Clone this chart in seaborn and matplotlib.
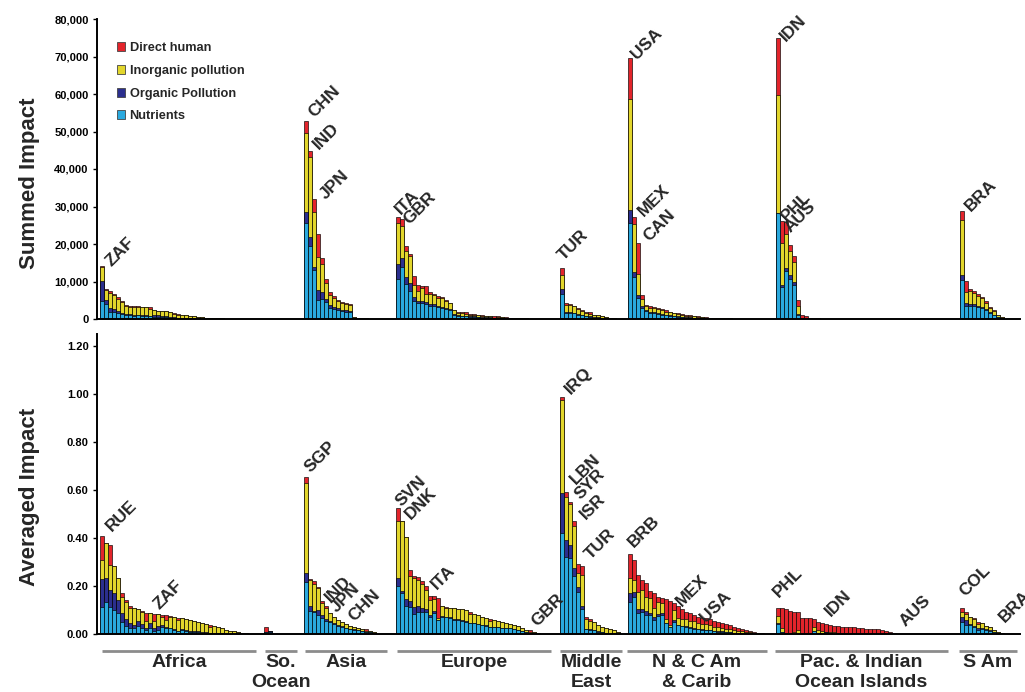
import matplotlib
matplotlib.use("Agg")
import matplotlib.pyplot as plt
from matplotlib.patches import Patch
from matplotlib.ticker import FuncFormatter
import numpy as np
import pandas as pd
import seaborn as sns

# ---- data -------------------------------------------------------------
regions = ["Africa", "So.\nOcean", "Asia", "Europe", "Middle\nEast",
           "N & C Am\n& Carib", "Pac. & Indian\nOcean Islands", "S Am"]
components = ["Nutrients", "Organic Pollution", "Inorganic pollution", "Direct human"]

# summed impact, thousands, one list per region (countries sorted high -> low)
top_nutrients = [
    [4.9, 4.0, 2.0, 1.8, 1.5, 1.3, 1.0, 1.0, 0.9, 1.0, 0.8, 0.9, 0.7, 0.6, 0.5, 0.6, 0.5, 0.4, 0.3,
     0.3, 0.2, 0.2, 0.2, 0.1, 0.1, 0.1, 0.1, 0.1, 0.1, 0, 0, 0, 0, 0, 0, 0, 0],
    [0, 0, 0],
    [25.5, 19.6, 13.0, 5.0, 5.3, 4.5, 2.9, 2.7, 2.4, 2.1, 2.0, 1.9, 0.2, 0.15, 0.1, 0.1, 0.05, 0],
    [10.7, 14.0, 9.3, 7.6, 4.9, 4.3, 4.3, 4.1, 3.6, 3.4, 3.2, 2.9, 2.6, 2.3, 1.2, 0.9, 0.8, 0.8,
     0.6, 0.6, 0.5, 0.4, 0.4, 0.4, 0.2, 0.3, 0.3, 0.2, 0.2, 0.1, 0.1, 0.1, 0.05, 0.05, 0, 0],
    [6.6, 1.5, 1.6, 1.5, 1.2, 1.0, 0.7, 0.6, 0.4, 0.4, 0.3, 0.2, 0.1, 0.1, 0],
    [25.7, 11.2, 5.5, 3.0, 2.1, 1.7, 1.5, 1.3, 1.2, 1.0, 0.9, 0.7, 0.6, 0.5, 0.4, 0.4, 0.3, 0.2,
     0.2, 0.2, 0.1, 0.1, 0.1, 0.1, 0.05, 0.05, 0, 0, 0, 0, 0, 0, 0, 0],
    [28.2, 8.5, 12.9, 10.7, 9.2, 1.2, 0.2, 0.1, 0.1, 0, 0, 0, 0, 0, 0, 0, 0, 0, 0, 0,
     0, 0, 0, 0, 0, 0, 0, 0, 0, 0],
    [10.4, 3.5, 3.5, 3.4, 3.2, 3.0, 2.5, 1.6, 1.1, 0.5, 0.2],
]
top_organic = [
    [5.3, 1.2, 1.0, 0.8, 0.6, 0.4, 0.3, 0.3, 0.2, 0.2, 0.3, 0.2, 0.2, 0.4, 0.5, 0.3, 0.3, 0.2, 0.2,
     0.1, 0.1, 0.1, 0.1, 0.1, 0.1, 0, 0, 0, 0, 0, 0, 0, 0, 0, 0, 0, 0],
    [0, 0, 0],
    [3.1, 2.2, 1.0, 2.7, 2.0, 0.8, 0.8, 0.6, 0.5, 0.4, 0.4, 0.3, 0.05, 0.05, 0, 0, 0, 0],
    [4.0, 2.2, 2.0, 2.0, 0.9, 0.5, 0.6, 0.5, 0.5, 0.5, 0.4, 0.3, 0.3, 0.3, 0.2, 0.1, 0.1, 0.1,
     0.1, 0.1, 0.1, 0.1, 0.1, 0.1, 0, 0, 0, 0, 0, 0, 0, 0, 0, 0, 0, 0],
    [1.3, 0.3, 0.3, 0.2, 0.2, 0.1, 0.1, 0.1, 0.1, 0.1, 0, 0, 0, 0, 0],
    [3.4, 1.3, 0.9, 0.6, 0.4, 0.3, 0.3, 0.3, 0.2, 0.2, 0.2, 0.1, 0.1, 0.1, 0.1, 0.1, 0.1, 0,
     0, 0, 0, 0, 0, 0, 0, 0, 0, 0, 0, 0, 0, 0, 0, 0],
    [0, 0.6, 0.6, 1.0, 0.7, 0.2, 0, 0, 0, 0, 0, 0, 0, 0, 0, 0, 0, 0, 0, 0,
     0, 0, 0, 0, 0, 0, 0, 0, 0, 0],
    [1.3, 0.9, 0.6, 0.5, 0.4, 0.3, 0.3, 0.2, 0.1, 0.1, 0],
]
top_inorganic = [
    [3.8, 2.5, 4.0, 3.8, 3.2, 2.8, 2.2, 1.9, 2.0, 2.0, 2.0, 2.0, 1.8, 1.3, 1.1, 1.2, 1.3, 1.2, 0.9,
     0.8, 0.8, 0.7, 0.6, 0.5, 0.4, 0.4, 0.3, 0.2, 0.2, 0.2, 0.2, 0.1, 0.1, 0.1, 0.05, 0.05, 0.03],
    [0.02, 0.01, 0],
    [21.0, 21.3, 14.6, 8.9, 7.5, 4.4, 2.8, 2.4, 2.0, 1.8, 1.7, 1.6, 0.2, 0.2, 0.2, 0.1, 0.05, 0.05],
    [10.8, 8.6, 6.9, 7.1, 3.4, 2.7, 3.5, 2.0, 2.5, 2.4, 2.1, 2.3, 2.0, 1.6, 0.9, 0.7, 0.8, 0.5,
     0.5, 0.5, 0.5, 0.4, 0.3, 0.3, 0.2, 0.3, 0.2, 0.2, 0.2, 0.2, 0.1, 0.1, 0.1, 0.05, 0.05, 0.03],
    [3.9, 2.0, 1.8, 1.7, 1.3, 1.1, 0.9, 0.7, 0.5, 0.5, 0.4, 0.3, 0.2, 0.1, 0.1],
    [29.5, 12.9, 5.6, 1.8, 1.0, 1.0, 1.1, 1.0, 1.0, 0.8, 0.7, 0.7, 0.7, 0.5, 0.4, 0.4, 0.4, 0.3,
     0.3, 0.2, 0.2, 0.1, 0.1, 0.1, 0.1, 0.1, 0.1, 0.05, 0.05, 0.05, 0.03, 0.03, 0.02, 0.02],
    [31.6, 11.1, 9.3, 6.5, 5.3, 2.0, 0.2, 0.2, 0.1, 0.1, 0.1, 0.05, 0, 0, 0, 0, 0, 0, 0, 0,
     0, 0, 0, 0, 0, 0, 0, 0, 0, 0],
    [14.7, 2.9, 3.3, 3.0, 2.5, 2.2, 1.6, 1.2, 1.0, 0.5, 0.3],
]
top_direct = [
    [0.2, 0.3, 0.4, 0.4, 0.5, 0.4, 0.3, 0.4, 0.3, 0.2, 0.2, 0.2, 0.4, 0.1, 0.1, 0.1, 0.1, 0.1, 0.1,
     0.1, 0, 0, 0, 0, 0, 0, 0, 0, 0, 0, 0, 0, 0, 0, 0, 0, 0],
    [0.03, 0.01, 0],
    [3.1, 1.6, 3.4, 6.2, 1.5, 1.0, 0.6, 0.5, 0.3, 0.3, 0.2, 0.2, 0.05, 0, 0, 0, 0, 0],
    [1.6, 2.0, 1.3, 0.7, 2.2, 1.6, 0.5, 2.3, 0.5, 0.4, 0.5, 0.3, 0.3, 0.2, 0.1, 0.1, 0.1, 0.6,
     0.1, 0.1, 0.1, 0.1, 0.1, 0.1, 0.4, 0.1, 0.1, 0.1, 0, 0, 0, 0, 0, 0, 0, 0],
    [1.9, 0.4, 0.4, 0.1, 0.2, 0.2, 0.1, 0.4, 0.1, 0.1, 0.1, 0.1, 0.1, 0, 0],
    [10.9, 1.8, 8.2, 1.0, 0.3, 0.5, 0.3, 0.3, 0.3, 0.3, 0.2, 0.2, 0.2, 0.2, 0.2, 0.1, 0.1, 0.3,
     0.1, 0.1, 0.1, 0.1, 0.1, 0, 0, 0, 0, 0, 0, 0, 0, 0, 0, 0],
    [15.1, 6.0, 3.1, 1.5, 1.5, 1.8, 0.7, 0.6, 0.2, 0.2, 0.1, 0.05, 0, 0, 0, 0, 0, 0, 0, 0,
     0, 0, 0, 0, 0, 0, 0, 0, 0, 0],
    [2.5, 2.8, 0.5, 0.6, 0.5, 0.4, 0.3, 0.2, 0.1, 0.1, 0.1],
]

# averaged impact
bot_nutrients = [
    [.111, .132, .114, .100, .086, .051, .034, .027, .025, .033, .027, .016, .026, .013, .018, .029,
     .024, .025, .017, .013, .015, .012, .010, .010, .008, .006, .005, .004, .004, .003, .003, .002,
     .002, .001, .001, 0, 0],
    [.008, .009, .002],
    [.218, .095, .090, .080, .068, .055, .050, .040, .035, .030, .024, .020, .018, .015, .012, .008,
     .008, .005],
    [.200, .170, .115, .111, .083, .092, .090, .090, .070, .087, .058, .072, .070, .065, .060, .058,
     .055, .052, .045, .045, .040, .038, .035, .030, .030, .028, .027, .025, .023, .020, .017, .014,
     .010, .005, .005, .002],
    [.419, .322, .315, .242, .176, .105, .020, .018, .015, .010, .008, .006, .005, .004, .002],
    [.135, .156, .086, .090, .080, .079, .059, .073, .079, .044, .029, .048, .037, .033, .030, .025,
     .022, .020, .018, .015, .015, .012, .010, .010, .008, .008, .006, .005, .004, .004, .003, .002,
     .001, .001],
    [.040, .007, 0, 0, 0, 0, 0, 0, 0, .011, .006, .006, 0, .003, .002, 0, .002, 0, 0, .002,
     0, 0, 0, 0, 0, 0, 0, 0, 0, 0],
    [.051, .038, .037, .028, .016, .020, .015, .013, .007, .004, .002],
]
bot_organic = [
    [.118, .100, .070, .070, .056, .035, .030, .020, .012, .020, .015, .010, .020, .010, .015, .010,
     .005, 0, .005, 0, .005, .004, .003, .002, .003, .002, .002, 0, 0, 0, 0, 0, 0, 0, 0, 0, 0],
    [0, .005, 0],
    [.035, .020, .004, .020, .010, .008, .006, .005, .004, .003, .002, .002, .002, .001, .001, 0,
     0, 0],
    [.032, .010, .030, .028, .030, .025, .020, .015, .010, .010, 0, .005, 0, .005, .004, .003,
     .003, .002, .002, .002, .002, .001, .001, .001, .001, .001, 0, 0, 0, 0, 0, 0, 0, 0, 0, 0],
    [.167, .069, .055, .032, .021, .010, .002, .002, .001, .001, 0, 0, 0, 0, 0],
    [.035, .021, .020, .015, .014, .010, .010, .010, .010, 0, 0, .010, 0, 0, .003, .003,
     .002, .002, .002, .002, .001, .001, .001, .001, .001, 0, 0, 0, 0, 0, 0, 0, 0, 0],
    [.005, 0, 0, 0, 0, 0, 0, 0, 0, 0, 0, 0, .008, 0, 0, 0, 0, 0, 0, 0,
     0, 0, 0, 0, 0, 0, 0, 0, 0, 0],
    [.021, .020, .005, .005, .010, .004, .005, .003, .002, .001, 0],
]
bot_inorganic = [
    [.080, .149, .104, .114, .090, .067, .070, .060, .070, .050, .050, .030, .040, .030, .050, .030,
     .030, .045, .050, .045, .045, .045, .045, .042, .038, .036, .033, .025, .029, .028, .021, .015,
     .012, .010, .007, .006, .003],
    [0, 0, 0],
    [.378, .110, .115, .090, .050, .045, .030, .024, .019, .018, .014, .013, .011, .010, .009, .005,
     .006, .005],
    [.240, .290, .260, .104, .120, .110, .100, .080, .060, .050, .010, .040, .040, .040, .045, .045,
     .045, .045, .035, .038, .036, .032, .031, .023, .026, .024, .023, .022, .020, .018, .015, .012,
     .008, .003, .004, .002],
    [.389, .180, .170, .174, .056, .130, .040, .036, .035, .026, .023, .018, .014, .013, .008],
    [.063, .049, .070, .080, .060, .060, .040, .050, .040, .020, .010, .040, .030, .030, .030, .028,
     .030, .025, .023, .023, .020, .018, .020, .016, .013, .012, .010, .009, .007, .006, .005, .004,
     .003, .001],
    [.030, .020, .003, 0, .010, .015, 0, 0, 0, .020, .010, .008, .002, .004, .005, .003, .004, .003,
     0, .002, .002, 0, .002, 0, 0, .002, 0, 0, 0, 0],
    [.021, .025, .030, .030, .015, .020, .015, .015, .008, .005, .004],
]
bot_direct = [
    [.100, 0, .083, 0, 0, .017, .008, .010, 0, 0, .005, .030, 0, .030, 0, .010, .020, .005, 0, .010,
     0, 0, 0, 0, 0, 0, 0, .008, 0, 0, 0, 0, 0, 0, 0, 0, 0],
    [.022, 0, 0],
    [.022, .003, .011, .005, .008, .010, 0, 0, 0, 0, 0, 0, 0, 0, 0, .006, 0, 0],
    [.051, 0, 0, .024, .010, .010, .010, .015, .020, .010, .080, 0, .003, 0, 0, 0, 0, 0, .010, 0,
     0, 0, 0, .010, 0, 0, 0, 0, 0, 0, 0, 0, 0, .007, 0, 0],
    [.011, .021, .010, .021, .039, .040, .007, .005, 0, 0, 0, 0, 0, 0, 0],
    [.100, .083, .070, .040, .060, .030, .060, .020, .020, .080, .100, .030, .050, .040, .030, .030,
     .025, .025, .025, .025, .025, .025, .020, .020, .020, .018, .015, .010, .008, .007, .006, .004,
     .002, .001],
    [.035, .080, .100, .096, .080, .075, .068, .068, .065, .030, .035, .030, .030, .030, .028, .030,
     .025, .028, .028, .024, .024, .024, .020, .019, .019, .017, .017, .014, .010, .006],
    [.017, .010, 0, .005, .010, 0, 0, 0, 0, 0, 0],
]

# labelled countries: (code, region, rank within region)
top_labels = [("ZAF", 0, 0), ("CHN", 2, 0), ("IND", 2, 1), ("JPN", 2, 2), ("ITA", 3, 0),
              ("GBR", 3, 1), ("TUR", 4, 0), ("USA", 5, 0), ("MEX", 5, 1), ("CAN", 5, 2),
              ("IDN", 6, 0), ("PHL", 6, 1), ("AUS", 6, 2), ("BRA", 7, 0)]
bot_labels = [("RUE", 0, 0), ("ZAF", 0, 12), ("SGP", 2, 0), ("IND", 2, 4), ("JPN", 2, 6),
              ("CHN", 2, 9), ("SVN", 3, 0), ("DNK", 3, 1), ("ITA", 3, 9), ("GBR", 3, 33),
              ("IRQ", 4, 0), ("LBN", 4, 1), ("SYR", 4, 2), ("ISR", 4, 3), ("TUR", 4, 4),
              ("BRB", 5, 0), ("MEX", 5, 11), ("USA", 5, 16), ("PHL", 6, 0), ("IDN", 6, 12),
              ("AUS", 6, 29), ("COL", 7, 0), ("BRA", 7, 10)]

# ---- layout -----------------------------------------------------------
region_start = [0, 41, 51, 74, 115, 132, 169, 215]
region_span = [(0, 38.5), (40.75, 48.75), (50.75, 71.25), (73.75, 112.25),
               (114.5, 130), (131.25, 166.25), (168.25, 211.5), (214.25, 228.75)]
# label offsets in pixels (right, up) from the top of the bar
top_offsets = [(10, -1), (8, 3), (9, 1), (12, -1), (3, 2), (7, -6), (2, 7), (7, -2), (10, 0),
               (11, 1), (8, -4), (5, -1), (5, -11), (9, -1)]
bot_offsets = [(10, 4), (9, 3), (5, 4), (9, -2), (7, 0), (12, 0), (4, 1), (9, 1), (3, 6),
               (7, 3), (9, 2), (10, 7), (11, 2), (12, 1), (13, 4), (4, 6), (8, -4), (12, -8),
               (1, 10), (5, 7), (12, 6), (3, 11), (3, 10)]

colors = {"Nutrients": "#2aa9de", "Organic Pollution": "#2b2f8e",
          "Inorganic pollution": "#e2d62c", "Direct human": "#e3242b"}


def build_frame(parts, scale=1.0):
    rows = []
    for r, start in enumerate(region_start):
        n = len(parts[0][r])
        assert all(len(p[r]) == n for p in parts), (r, [len(p[r]) for p in parts])
        for i in range(n):
            rows.append({"pos": start + i, "region": r, "rank": i,
                         **{c: parts[k][r][i] * scale for k, c in enumerate(components)}})
    df = pd.DataFrame(rows)
    cum = df[components].cumsum(axis=1)
    for c in components:
        df["cum_" + c] = cum[c]
    return df


def draw_stack(ax, df):
    # tallest (cumulative) first, nutrients last so every segment shows
    for c in reversed(components):
        sns.barplot(data=df, x="pos", y="cum_" + c, native_scale=True, orient="x",
                    color=colors[c], saturation=1, width=0.9, edgecolor="black",
                    linewidth=0.45, errorbar=None, ax=ax)


def annotate(ax, df, labels, offsets):
    for (code, r, i), (dx, dy) in zip(labels, offsets):
        row = df[(df.region == r) & (df["rank"] == i)].iloc[0]
        ax.annotate(code, (row.pos, row["cum_Direct human"]), xytext=(dx * 0.72, dy * 0.72),
                    textcoords="offset points", rotation=45, rotation_mode="anchor",
                    ha="left", va="baseline", fontsize=12.5, fontweight="bold",
                    annotation_clip=False)


sns.set_style("white")
plt.rcParams["font.family"] = ["Liberation Sans", "DejaVu Sans"]

top = build_frame([top_nutrients, top_organic, top_inorganic, top_direct], scale=1000)
bot = build_frame([bot_nutrients, bot_organic, bot_inorganic, bot_direct])

W, H = 1025, 692
fig = plt.figure(figsize=(W / 100, H / 100), dpi=100)
ax1 = fig.add_axes([97 / W, 1 - 319 / H, 923 / W, 300 / H])
ax2 = fig.add_axes([97 / W, 1 - 634 / H, 923 / W, 300 / H])

draw_stack(ax1, top)
draw_stack(ax2, bot)

ax1.set_ylim(0, 80000)
ax1.set_yticks(np.arange(0, 80001, 10000))
ax1.yaxis.set_major_formatter(FuncFormatter(lambda v, p: f"{v:,.0f}"))
ax2.set_ylim(0, 1.25)
ax2.set_yticks(np.arange(0, 1.21, 0.2))
ax2.yaxis.set_major_formatter(FuncFormatter(lambda v, p: f"{v:.2f}"))

for ax in (ax1, ax2):
    ax.set_xlim(-1.25, 229.5)
    ax.set_xticks([])
    ax.set_xlabel("")
    ax.set_ylabel("")
    for s in ("top", "right"):
        ax.spines[s].set_visible(False)
    for s in ("left", "bottom"):
        ax.spines[s].set_linewidth(1.4)
        ax.spines[s].set_color("black")
    ax.tick_params(axis="y", direction="out", length=3, width=1, pad=3, labelsize=8,
                   left=True, colors="black")
    for t in ax.get_yticklabels():
        t.set_fontweight("bold")

annotate(ax1, top, top_labels, top_offsets)
annotate(ax2, bot, bot_labels, bot_offsets)

# region brackets and names under the lower panel
for name, (a, b) in zip(regions, region_span):
    ax2.plot([a, b], [-0.057, -0.057], color="#8c8c8c", lw=2, clip_on=False,
             transform=ax2.get_xaxis_transform(), solid_capstyle="butt")
    ax2.text((a + b) / 2, -0.066, name, transform=ax2.get_xaxis_transform(), ha="center",
             va="top", fontsize=14, fontweight="bold", linespacing=1.25)

fig.text(30 / W, 1 - 183 / H, "Summed Impact", rotation=90, ha="center", va="center",
         fontsize=16, fontweight="bold")
fig.text(30 / W, 1 - 497 / H, "Averaged Impact", rotation=90, ha="center", va="center",
         fontsize=16, fontweight="bold")

handles = [Patch(facecolor=colors[c], edgecolor="#444444", linewidth=0.6)
           for c in reversed(components)]
fig.legend(handles, list(reversed(components)), loc="upper left",
           bbox_to_anchor=(111 / W, 1 - 36 / H), frameon=False, borderpad=0,
           handlelength=0.6, handleheight=0.7, handletextpad=0.35, labelspacing=0.83,
           prop={"size": 9.2, "weight": "bold"})

fig.savefig("out.png", dpi=100)
